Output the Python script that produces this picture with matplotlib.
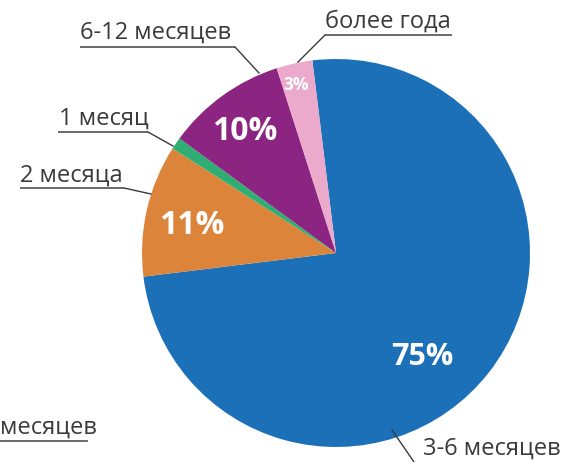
import matplotlib
matplotlib.use("Agg")
import matplotlib.pyplot as plt

categories = ["3-6 месяцев", "2 месяца", "1 месяц", "6-12 месяцев", "более года"]
values = [75, 11, 1, 10, 3]
pct_labels = ["75%", "11%", "", "10%", "3%"]
colors = ["#1C70B8", "#DD843B", "#30AD72", "#8C2581", "#EBAACB"]

W, H = 564, 462
fig = plt.figure(figsize=(W / 100, H / 100), dpi=100)
ax = fig.add_axes([0, 0, 1, 1])

cx, cy, r = 336, H - 253, 194
ax.pie(values, colors=colors, startangle=97, counterclock=False,
       center=(cx, cy), radius=r, frame=True,
       wedgeprops=dict(linewidth=0))
ax.set_xlim(0, W)
ax.set_ylim(0, H)
ax.set_aspect("equal")
ax.axis("off")

plt.rcParams["font.family"] = ["Open Sans", "DejaVu Sans"]

# percent labels (image pixel coords)
pct_pos = [(422, 357), (192, 225), None, (245, 131), (296, 85)]
pct_size = [22, 23, 0, 23, 12.5]
for lab, pos, fs in zip(pct_labels, pct_pos, pct_size):
    if pos is None or not lab:
        continue
    ax.text(pos[0], H - pos[1], lab, color="white", fontsize=fs,
            fontweight="bold", ha="center", va="center")

txt_color = "#3a3a3a"
line_color = "#3a3a3a"
FS = 17

def callout(text, tx, ty, ux0, ux1, uy, px, py, lx0=None, ly0=None):
    ax.text(tx, H - ty, text, fontsize=FS, color=txt_color, ha="left", va="baseline")
    ax.plot([ux0, ux1], [H - uy, H - uy], color="#5e5e5e", lw=1.3, solid_capstyle="butt")
    if lx0 is None:
        lx0, ly0 = ux1, uy
    ax.plot([lx0, px], [H - ly0, H - py], color=line_color, lw=1.0)

# более года
callout(categories[4], 325, 28, 325, 452, 35, 298, 62, lx0=325, ly0=35)
# 6-12 месяцев
callout(categories[3], 80, 39, 80, 235, 47, 259, 73)
# 1 месяц
callout(categories[2], 59, 125, 58, 148, 132, 173, 146)
# 2 месяца
callout(categories[1], 20, 182, 20, 124, 188, 151, 194)
# 3-6 месяцев (bottom right)
ax.text(423, H - 455, categories[0], fontsize=FS, color=txt_color, ha="left", va="baseline")
ax.plot([392, 414], [H - 430, H - 462], color=line_color, lw=1.0)
# label at bottom left edge (belongs to neighbouring chart, clipped in reference)
ax.text(0, H - 434, "месяцев", fontsize=FS, color=txt_color, ha="left", va="baseline")
ax.plot([0, 87], [H - 441, H - 441], color="#5e5e5e", lw=1.3)

fig.savefig("out.png", dpi=100)
